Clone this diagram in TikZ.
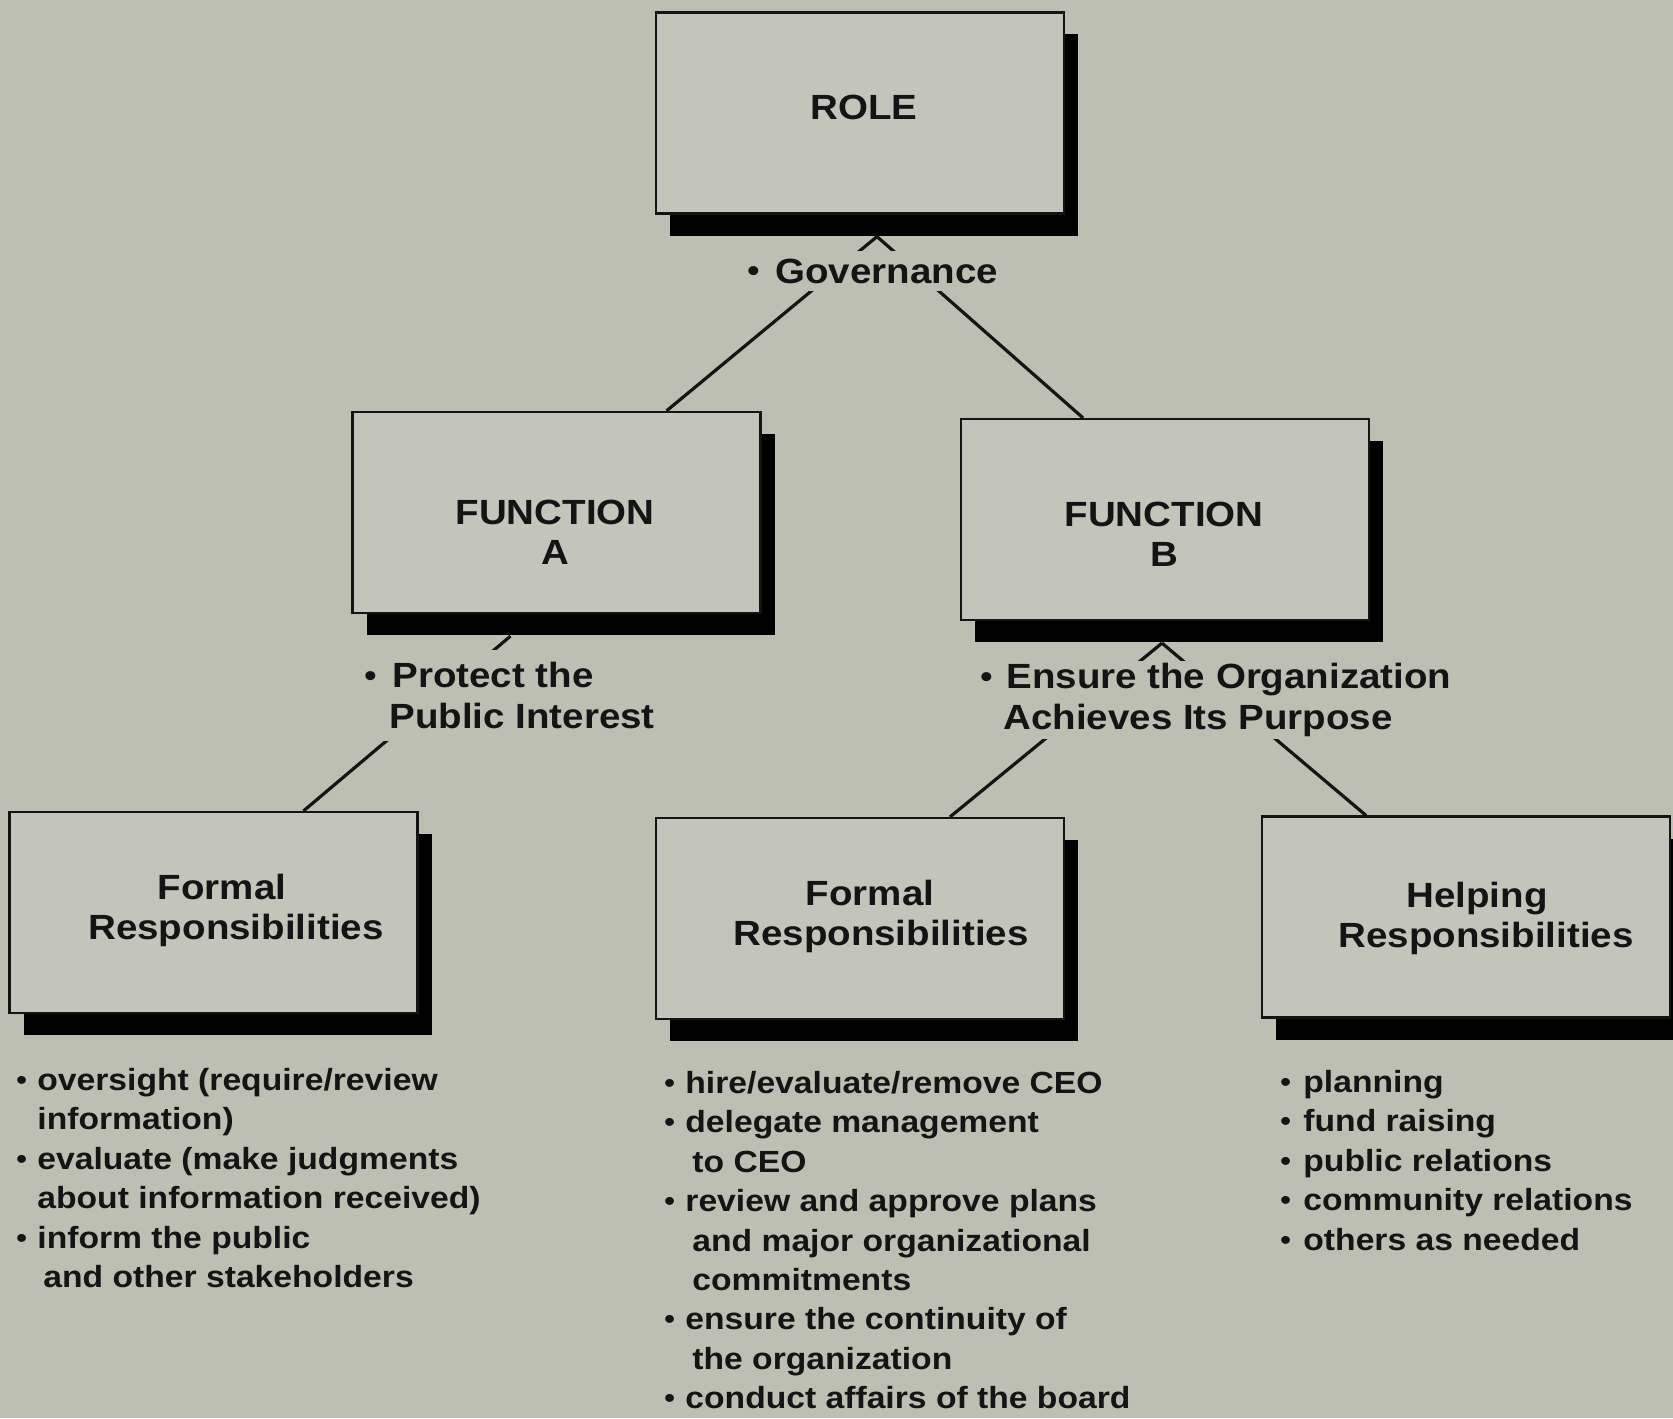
\documentclass[tikz,border=0pt]{standalone}
\usepackage{fontspec}
\newfontfamily\chartfont[FakeStretch=1.1]{Liberation Sans}
\usetikzlibrary{shadows,backgrounds}
\definecolor{paper}{RGB}{189,191,178}
\definecolor{boxfill}{RGB}{195,197,186}
\definecolor{ink}{RGB}{20,20,20}
\newcommand{\lbul}[1]{\makebox[#1][l]{\raisebox{0.035em}{\scalebox{0.9}{\textbullet}}}}

\begin{document}
\begin{tikzpicture}[x=0.5pt,y=-0.5pt,
	card/.style={draw=ink,line width=1.1pt,fill=boxfill,minimum width=204pt,minimum height=100.5pt,
		drop shadow={shadow xshift=7pt,shadow yshift=-11pt,fill=black,opacity=1}},
	title/.style={anchor=north,inner sep=0pt,align=center,text=ink,
		font=\chartfont\bfseries\fontsize{17.5}{20}\selectfont},
	tag/.style={anchor=north west,fill=paper,inner xsep=3pt,align=left,text=ink,
		font=\chartfont\bfseries\fontsize{17.5}{20.5}\selectfont},
	duties/.style={anchor=north west,inner sep=0pt,align=left,text=ink,
		font=\chartfont\bfseries\fontsize{15.3}{19.7}\selectfont},
	link/.style={draw=ink,line width=1.6pt}]
	\useasboundingbox (0,0) rectangle (1673,1418);

	% boxes
	\node[card] (role) at (860,113) {};
	\node[card] (fa) at (556.5,512.5) {};
	\node[card] (fb) at (1165,519.5) {};
	\node[card] (fl) at (213.5,912.5) {};
	\node[card] (fm) at (860,918.5) {};
	\node[card] (hr) at (1466,917) {};

	\node[title] (trole) at (864,95) {ROLE};
	\node[title] (tfa) at (555,500) {FUNCTION\\A};
	\node[title] (tfb) at (1164,502) {FUNCTION\\B};
	\node[title] (tfl) at (236,874) {Formal\hspace{14pt}\mbox{}\\Responsibilities};
	\node[title] (tfm) at (881,880) {Formal\hspace{11pt}\mbox{}\\Responsibilities};
	\node[title] (thr) at (1486,882) {Helping\hspace{9pt}\mbox{}\\Responsibilities};

	% connectors run behind the labels
	\begin{pgfonlayer}{background}
		\fill[paper] (0,0) rectangle (1673,1418);
		\draw[link] ([xshift=8.5pt,yshift=-11pt]role.south) -- ([xshift=55pt]fa.north);
		\draw[link] ([xshift=8.5pt,yshift=-11pt]role.south) -- ([xshift=-41pt]fb.north);
		\draw[link] ([xshift=-23pt,yshift=-11pt]fa.south) -- ([xshift=45pt]fl.north);
		\draw[link] ([xshift=-1.5pt,yshift=-11pt]fb.south) -- ([xshift=45pt]fm.north);
		\draw[link] ([xshift=-1.5pt,yshift=-11pt]fb.south) -- ([xshift=-50pt]hr.north);
	\end{pgfonlayer}

	% labels
	\node[tag,inner ysep=4pt,anchor=base west] (gov) at (741,283) {\lbul{14pt}Governance};
	\node[tag,inner ysep=6pt] (prot) at (358,650) {\lbul{14pt}Protect the\\\hspace*{12.5pt}Public Interest};
	\node[tag,inner ysep=1pt] (ens) at (974,661) {\lbul{13pt}Ensure the Organization\\\hspace*{11.5pt}Achieves Its Purpose};

	% duty lists
	\node[duties] (dfl) at (16,1068) {\lbul{10.5pt}oversight (require/review\\
		\hspace*{10.5pt}information)\\
		\lbul{10.5pt}evaluate (make judgments\\
		\hspace*{10.5pt}about information received)\\
		\lbul{10.5pt}inform the public\\
		\hspace*{13.5pt}and other stakeholders};
	\node[duties] (dfm) at (664,1071) {\lbul{10.5pt}hire/evaluate/remove CEO\\
		\lbul{10.5pt}delegate management\\
		\hspace*{14pt}to CEO\\
		\lbul{10.5pt}review and approve plans\\
		\hspace*{14pt}and major organizational\\
		\hspace*{14pt}commitments\\
		\lbul{10.5pt}ensure the continuity of\\
		\hspace*{14pt}the organization\\
		\lbul{10.5pt}conduct affairs of the board};
	\node[duties] (dhr) at (1280,1070) {\lbul{11.5pt}planning\\
		\lbul{11.5pt}fund raising\\
		\lbul{11.5pt}public relations\\
		\lbul{11.5pt}community relations\\
		\lbul{11.5pt}others as needed};
\end{tikzpicture}
\end{document}
